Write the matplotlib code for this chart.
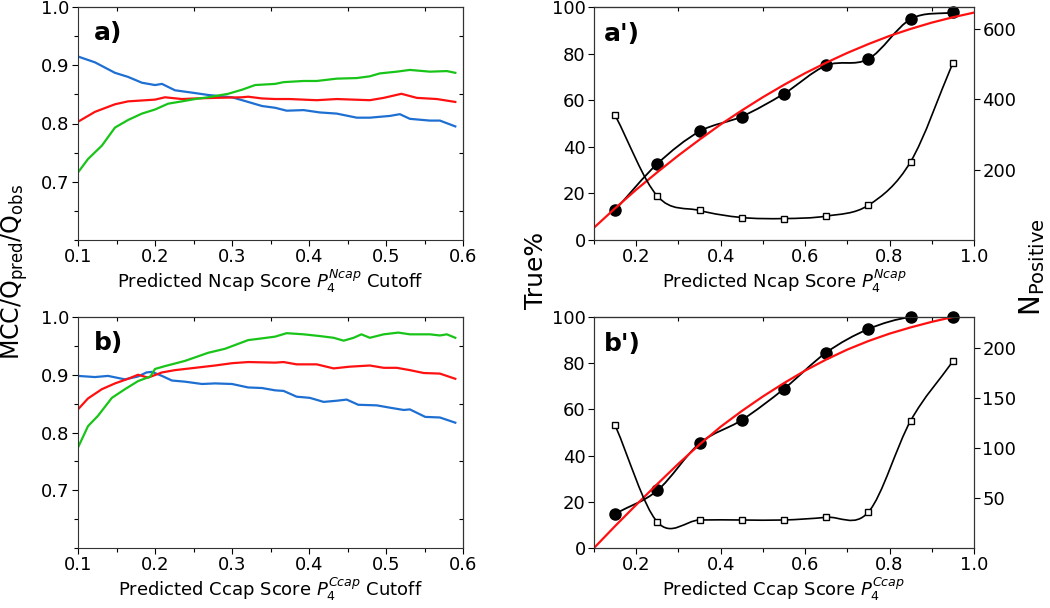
import numpy as np
import matplotlib
matplotlib.use("Agg")
import matplotlib.pyplot as plt
from matplotlib.path import Path
from matplotlib.patches import PathPatch
from matplotlib.ticker import MultipleLocator, FixedLocator, FormatStrFormatter

plt.rcParams['font.family'] = ['DejaVu Sans']
plt.rcParams['mathtext.fontset'] = 'dejavusans'

# ---- panel a) : Ncap cutoff scan
a_blue_x = [0.100, 0.122, 0.148, 0.165, 0.183, 0.200, 0.209, 0.226, 0.248, 0.269, 0.300, 0.321, 0.339, 0.356,
            0.371, 0.393, 0.414, 0.436, 0.462, 0.479, 0.505, 0.518, 0.531, 0.557, 0.570, 0.590]
a_blue_y = [0.915, 0.905, 0.887, 0.880, 0.870, 0.866, 0.868, 0.857, 0.853, 0.849, 0.845, 0.837, 0.830, 0.827,
            0.822, 0.823, 0.819, 0.817, 0.810, 0.810, 0.813, 0.816, 0.808, 0.805, 0.805, 0.795]
a_red_x = [0.100, 0.122, 0.148, 0.165, 0.200, 0.213, 0.235, 0.252, 0.278, 0.313, 0.321, 0.339, 0.356,
           0.375, 0.410, 0.436, 0.479, 0.497, 0.520, 0.540, 0.566, 0.590]
a_red_y = [0.803, 0.820, 0.833, 0.838, 0.841, 0.845, 0.842, 0.843, 0.844, 0.845, 0.846, 0.843, 0.842,
           0.842, 0.840, 0.842, 0.840, 0.844, 0.851, 0.844, 0.842, 0.837]
a_green_x = [0.100, 0.113, 0.131, 0.148, 0.165, 0.183, 0.200, 0.217, 0.235, 0.252, 0.269, 0.295, 0.313, 0.330, 0.356,
             0.367, 0.393, 0.410, 0.436, 0.462, 0.479, 0.492, 0.514, 0.531, 0.557, 0.579, 0.590]
a_green_y = [0.716, 0.739, 0.762, 0.793, 0.806, 0.817, 0.824, 0.834, 0.838, 0.842, 0.845, 0.851, 0.858, 0.866, 0.868,
             0.871, 0.873, 0.873, 0.877, 0.878, 0.881, 0.886, 0.889, 0.892, 0.889, 0.890, 0.887]

# ---- panel b) : Ccap cutoff scan
b_blue_x = [0.100, 0.122, 0.139, 0.161, 0.178, 0.189, 0.196, 0.209, 0.222, 0.239, 0.261, 0.278, 0.300, 0.321, 0.339, 0.356,
            0.367, 0.384, 0.401, 0.419, 0.436, 0.449, 0.464, 0.488, 0.505, 0.523, 0.531, 0.551, 0.570, 0.590]
b_blue_y = [0.898, 0.896, 0.898, 0.892, 0.897, 0.904, 0.905, 0.898, 0.890, 0.888, 0.884, 0.885, 0.884, 0.878, 0.877, 0.873,
            0.872, 0.862, 0.860, 0.853, 0.855, 0.857, 0.848, 0.847, 0.843, 0.839, 0.840, 0.827, 0.826, 0.817]
b_red_x = [0.100, 0.113, 0.131, 0.148, 0.165, 0.178, 0.191, 0.209, 0.226, 0.252, 0.278, 0.300, 0.321, 0.356,
           0.367, 0.384, 0.410, 0.432, 0.453, 0.479, 0.497, 0.514, 0.531, 0.549, 0.570, 0.590]
b_red_y = [0.840, 0.859, 0.875, 0.885, 0.893, 0.900, 0.895, 0.904, 0.908, 0.912, 0.916, 0.920, 0.922, 0.921,
           0.922, 0.918, 0.918, 0.911, 0.914, 0.916, 0.912, 0.912, 0.908, 0.903, 0.902, 0.893]
b_green_x = [0.100, 0.113, 0.126, 0.144, 0.161, 0.178, 0.194, 0.200, 0.213, 0.239, 0.269, 0.291, 0.321, 0.339, 0.356,
             0.371, 0.393, 0.414, 0.432, 0.445, 0.458, 0.468, 0.479, 0.497, 0.516, 0.531, 0.557, 0.570, 0.579, 0.590]
b_green_y = [0.774, 0.811, 0.829, 0.860, 0.875, 0.889, 0.897, 0.910, 0.915, 0.924, 0.938, 0.945, 0.960, 0.963, 0.966,
             0.972, 0.970, 0.967, 0.964, 0.959, 0.964, 0.970, 0.964, 0.970, 0.973, 0.970, 0.970, 0.968, 0.970, 0.964]

# ---- panels a') and b') : binned scores
bin_x = [0.15, 0.25, 0.35, 0.45, 0.55, 0.65, 0.75, 0.85, 0.95]
ap_true = [12.9, 32.7, 46.6, 53.0, 62.8, 74.9, 77.7, 94.8, 97.7]
ap_npos = [355, 125, 84, 64, 61, 68, 99, 223, 504]
bp_true = [14.8, 24.9, 45.3, 55.4, 68.9, 84.6, 94.8, 100.0, 100.0]
bp_npos = [122.7, 26, 28, 28, 28, 30.7, 36, 127.3, 186.7]

ap_fit_x = [0.10, 0.15, 0.20, 0.25, 0.30, 0.35, 0.40, 0.45, 0.50, 0.55, 0.60, 0.65, 0.70, 0.75, 0.80, 0.85, 0.90, 0.95, 1.00]
ap_fit_y = [5.3, 13.6, 21.6, 29.1, 36.3, 43.1, 49.6, 55.6, 61.3, 66.6, 71.6, 76.1, 80.3, 84.1, 87.6, 90.6, 93.3, 95.6, 97.6]
bp_fit_x = [0.10, 0.15, 0.20, 0.25, 0.30, 0.35, 0.40, 0.45, 0.50, 0.55, 0.60, 0.65, 0.70, 0.75, 0.80, 0.85, 0.90, 0.95]
bp_fit_y = [0.0, 9.5, 18.7, 27.7, 36.5, 44.8, 52.5, 59.3, 65.6, 71.4, 76.8, 81.6, 85.9, 89.6, 92.8, 95.5, 97.9, 100.0]

BLUE = '#1e6fd2'
RED = '#ff1010'
GREEN = '#19c419'


def spline_path(xs, ys):
    # smooth connecting line through the points (cubic Hermite drawn as Bezier)
    xs = np.asarray(xs, float)
    ys = np.asarray(ys, float)
    n = len(xs)
    m = np.empty(n)
    m[0] = (ys[1] - ys[0]) / (xs[1] - xs[0])
    m[-1] = (ys[-1] - ys[-2]) / (xs[-1] - xs[-2])
    m[1:-1] = (ys[2:] - ys[:-2]) / (xs[2:] - xs[:-2])
    verts = [(xs[0], ys[0])]
    codes = [Path.MOVETO]
    for i in range(n - 1):
        h = xs[i + 1] - xs[i]
        verts += [(xs[i] + h / 3, ys[i] + m[i] * h / 3),
                  (xs[i + 1] - h / 3, ys[i + 1] - m[i + 1] * h / 3),
                  (xs[i + 1], ys[i + 1])]
        codes += [Path.CURVE4] * 3
    return Path(verts, codes)


fig = plt.figure(figsize=(10.5, 6.08), dpi=100)

W = 1050.0
H = 608.0


def box(l, t, r, b):
    return [l / W, 1 - b / H, (r - l) / W, (b - t) / H]


ax_a = fig.add_axes(box(78, 7, 463, 240))
ax_b = fig.add_axes(box(78, 317, 463, 548))
ax_ap = fig.add_axes(box(594, 7, 974, 240))
ax_bp = fig.add_axes(box(594, 317, 974, 548))

TS = 13


def style_left(ax, xlabel):
    ax.set_xlim(0.1, 0.6)
    ax.set_ylim(0.6, 1.0)
    ax.xaxis.set_major_locator(MultipleLocator(0.1))
    ax.xaxis.set_minor_locator(MultipleLocator(0.05))
    ax.yaxis.set_major_locator(FixedLocator([0.7, 0.8, 0.9, 1.0]))
    ax.yaxis.set_minor_locator(FixedLocator([0.6, 0.65, 0.75, 0.85, 0.95]))
    ax.xaxis.set_major_formatter(FormatStrFormatter('%.1f'))
    ax.yaxis.set_major_formatter(FormatStrFormatter('%.1f'))
    ax.tick_params(which='both', direction='out', labelsize=TS, pad=2, width=0.8)
    ax.tick_params(which='major', length=4)
    ax.tick_params(which='minor', length=3)
    ax.set_xlabel(xlabel, fontsize=TS, labelpad=1)
    for s in ax.spines.values():
        s.set_linewidth(0.8)
        s.set_color('#333333')
    sec = ax.secondary_xaxis('top')
    sec.set_xticks([0.15, 0.25, 0.35, 0.45, 0.55])
    sec.tick_params(direction='in', length=3, labeltop=False, width=0.8)
    sec2 = ax.secondary_yaxis('right')
    sec2.set_yticks([0.65, 0.75, 0.85, 0.95])
    sec2.tick_params(direction='in', length=3, labelright=False, width=0.8)


for ax, data, lab in [
    (ax_a, [(a_blue_x, a_blue_y, BLUE), (a_red_x, a_red_y, RED), (a_green_x, a_green_y, GREEN)],
     'Predicted Ncap Score $P_4^{Ncap}$ Cutoff'),
    (ax_b, [(b_blue_x, b_blue_y, BLUE), (b_red_x, b_red_y, RED), (b_green_x, b_green_y, GREEN)],
     'Predicted Ccap Score $P_4^{Ccap}$ Cutoff'),
]:
    for xs, ys, c in data:
        ax.plot(xs, ys, color=c, lw=1.6)
    style_left(ax, lab)

ax_a.text(0.04, 0.94, 'a)', transform=ax_a.transAxes, fontsize=18, fontweight='bold', va='top')
ax_b.text(0.04, 0.94, 'b)', transform=ax_b.transAxes, fontsize=18, fontweight='bold', va='top')


def style_right(ax, ax2, xlabel, rlim, rticks):
    ax.set_xlim(0.1, 1.0)
    ax.set_ylim(0, 100)
    ax.xaxis.set_major_locator(MultipleLocator(0.2))
    ax.xaxis.set_minor_locator(MultipleLocator(0.1))
    ax.yaxis.set_major_locator(MultipleLocator(20))
    ax.xaxis.set_major_formatter(FormatStrFormatter('%.1f'))
    ax.tick_params(which='both', direction='out', labelsize=TS, pad=2, width=0.8)
    ax.tick_params(which='major', length=4)
    ax.tick_params(which='minor', length=3)
    ax.set_xlabel(xlabel, fontsize=TS, labelpad=1)
    ax2.set_ylim(*rlim)
    ax2.set_yticks(rticks)
    ax2.tick_params(direction='out', labelsize=TS, pad=2, length=4, width=0.8)
    for a in (ax, ax2):
        for s in a.spines.values():
            s.set_linewidth(0.8)
            s.set_color('#333333')
    sec = ax.secondary_xaxis('top')
    sec.set_xticks([0.3, 0.5, 0.7, 0.9])
    sec.tick_params(direction='in', length=3, labeltop=False, width=0.8)


for ax, tv, nv, fx, fy, lab, rlim, rticks, name in [
    (ax_ap, ap_true, ap_npos, ap_fit_x, ap_fit_y, 'Predicted Ncap Score $P_4^{Ncap}$', (0, 663), [200, 400, 600], "a')"),
    (ax_bp, bp_true, bp_npos, bp_fit_x, bp_fit_y, 'Predicted Ccap Score $P_4^{Ccap}$', (0, 231), [50, 100, 150, 200], "b')"),
]:
    ax2 = ax.twinx()
    ax.add_patch(PathPatch(spline_path(bin_x, tv), fill=False, edgecolor='black', lw=1.3, zorder=2))
    ax.plot(bin_x, tv, 'o', color='black', ms=8, zorder=3, clip_on=False)
    ax.plot(fx, fy, color=RED, lw=1.6, zorder=4)
    ax2.add_patch(PathPatch(spline_path(bin_x, nv), fill=False, edgecolor='black', lw=1.2, zorder=2))
    ax2.plot(bin_x, nv, 's', mfc='white', mec='black', mew=1.0, ms=4, zorder=3)
    style_right(ax, ax2, lab, rlim, rticks)
    ax.text(0.025, 0.935, name, transform=ax.transAxes, fontsize=18, fontweight='bold', va='top')

fig.text(15 / W, 1 - 272 / H, 'MCC/Q$_{\\mathrm{pred}}$/Q$_{\\mathrm{obs}}$', rotation=90,
         fontsize=17, ha='center', va='center')
fig.text(536 / W, 1 - 270 / H, 'True%', rotation=90, fontsize=18, ha='center', va='center')
fig.text(1032 / W, 1 - 267 / H, 'N$_{\\mathrm{Positive}}$', rotation=90, fontsize=20, ha='center', va='center')

fig.savefig('out.png', dpi=100)
